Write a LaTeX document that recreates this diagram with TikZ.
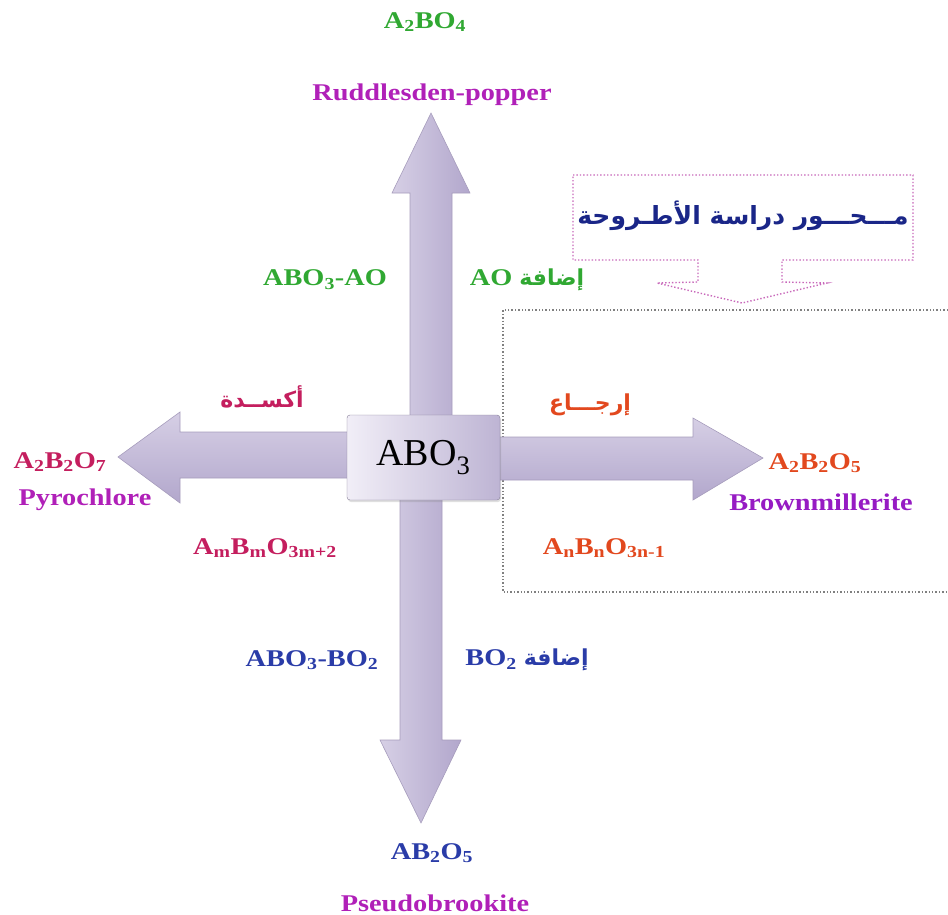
\documentclass[tikz,border=0pt]{standalone}
\usepackage{fontspec}
\setmainfont{Liberation Serif}[FakeStretch=1.18]
\newfontfamily\boxfont{Liberation Serif}
\newfontfamily\arabicfont[Script=Arabic]{DejaVu Sans}
\TeXXeTstate=1
\usepackage{tikz}
\usetikzlibrary{shadows}
\definecolor{grn}{HTML}{30A832}
\definecolor{mag}{HTML}{B020B8}
\definecolor{crim}{HTML}{C41E5E}
\definecolor{orng}{HTML}{E2481E}
\definecolor{blu}{HTML}{2A3CA8}
\definecolor{navy}{HTML}{1A2688}
\definecolor{lavlight}{HTML}{F1EEF7}
\definecolor{lavmid}{HTML}{D6CFE5}
\definecolor{lavdark}{HTML}{B2A7CC}
\definecolor{lavedge}{HTML}{A69CBC}
\definecolor{calloutc}{HTML}{C868BA}
\tikzset{
  lbl/.style    = {font=\bfseries\fontsize{24}{28}\selectfont, inner sep=1pt},
  arlbl/.style  = {font=\arabicfont\bfseries\fontsize{22}{26}\selectfont, inner sep=1pt},
  varrow/.style = {draw=lavedge, line width=0.6pt, left color=lavmid,
                   middle color=lavlight, right color=lavdark},
  harrow/.style = {draw=lavedge, line width=0.6pt, top color=lavmid,
                   middle color=lavlight, bottom color=lavdark},
  core/.style   = {draw=lavedge!80!black, rounded corners=3pt, left color=lavlight,
                   right color=lavdark!85, minimum width=153pt, minimum height=85pt,
                   font=\boxfont\fontsize{38}{40}\selectfont,
                   drop shadow={opacity=0.25, shadow xshift=1pt, shadow yshift=-2pt}},
  studyframe/.style = {draw=black!50, dotted, line width=1.4pt},
}

\begin{document}
\begin{tikzpicture}[x=1pt, y=-1pt]
  \useasboundingbox (0,0) rectangle (948,915);

  % study-axis frame and its callout
  \draw[studyframe] (948,310) -- (503,310) -- (503,592) -- (948,592);
  \node[font=\arabicfont\bfseries\fontsize{25}{30}\selectfont, text=navy] (axis) at (743,216)
    {\beginR مـــحـــور دراسة الأطـروحة\endR};
  \draw[calloutc, dotted, line width=1.4pt] (573,175) -- (913,175) -- (913,260) -- (782,260)
    -- (782,282) -- (827,283) -- (742,303) -- (657,283) -- (698,282) -- (698,260)
    -- (573,260) -- cycle;

  % block arrows
  \draw[varrow] (410,420) -- (410,193) -- (392,193) -- (431,113) -- (470,193)
    -- (452,193) -- (452,420) -- cycle;
  \draw[varrow] (400,495) -- (400,740) -- (380,740) -- (421,823) -- (461,740)
    -- (442,740) -- (442,495) -- cycle;
  \draw[harrow] (350,432) -- (180,432) -- (180,412) -- (118,457) -- (180,503)
    -- (180,478) -- (350,478) -- cycle;
  \draw[harrow] (495,437) -- (693,437) -- (693,418) -- (763,458) -- (693,500)
    -- (693,480) -- (495,480) -- cycle;

  \node[core] (abo) at (423.5,457.5) {ABO\textsubscript{3}};

  % up
  \node[lbl, text=grn] (a2bo4) at (425,22) {A\textsubscript{2}BO\textsubscript{4}};
  \node[lbl, text=mag] (rp) at (432,95) {Ruddlesden-popper};
  \node[lbl, text=grn] (aboao) at (325,280) {ABO\textsubscript{3}-AO};
  \node[lbl, text=grn] (addao) at (527,280)
    {\beginR{\arabicfont\fontsize{22}{26}\selectfont إضافة}\ \beginL AO\endL\endR};

  % left
  \node[arlbl, text=crim] (oxid) at (262,397) {\beginR أكســدة\endR};
  \node[lbl, text=crim] (a2b2o7) at (60,462) {A\textsubscript{2}B\textsubscript{2}O\textsubscript{7}};
  \node[lbl, text=mag] (pyro) at (85,500) {Pyrochlore};
  \node[lbl, text=crim] (ambm) at (265,548)
    {A\textsubscript{m}B\textsubscript{m}O\textsubscript{3m+2}};

  % right
  \node[arlbl, text=orng] (reduc) at (590,405) {\beginR إرجـــاع\endR};
  \node[lbl, text=orng] (a2b2o5) at (815,463) {A\textsubscript{2}B\textsubscript{2}O\textsubscript{5}};
  \node[lbl, text=mag!85!blue] (brown) at (821,502) {Brownmillerite};
  \node[lbl, text=orng] (anbn) at (604,548)
    {A\textsubscript{n}B\textsubscript{n}O\textsubscript{3n-1}};

  % down
  \node[lbl, text=blu] (abobo) at (312,660) {ABO\textsubscript{3}-BO\textsubscript{2}};
  \node[lbl, text=blu] (addbo) at (527,660)
    {\beginR{\arabicfont\fontsize{22}{26}\selectfont إضافة}\ \beginL BO\textsubscript{2}\endL\endR};
  \node[lbl, text=blu] (ab2o5) at (432,853) {AB\textsubscript{2}O\textsubscript{5}};
  \node[lbl, text=mag] (pseudo) at (435,903) {Pseudobrookite};
\end{tikzpicture}
\end{document}
